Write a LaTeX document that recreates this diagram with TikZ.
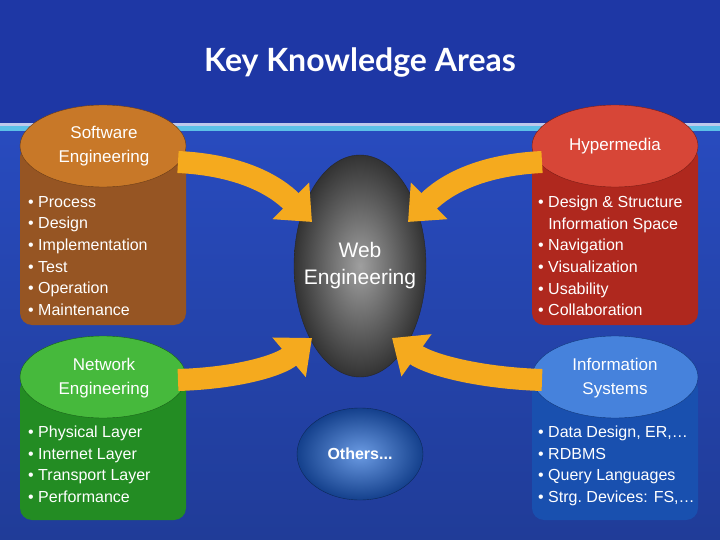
\documentclass[tikz,border=0pt]{standalone}
\usepackage{fontspec}
\setmainfont{Liberation Sans}
\newfontfamily\titlefont{Lato}
\usetikzlibrary{arrows.meta,shapes.geometric}
\definecolor{bgblue}{RGB}{40,75,190}
\definecolor{bgdark}{RGB}{30,55,165}
\definecolor{brn}{RGB}{150,85,35}
\definecolor{brntop}{RGB}{200,120,40}
\definecolor{redc}{RGB}{175,40,30}
\definecolor{redtop}{RGB}{215,70,55}
\definecolor{grn}{RGB}{35,140,35}
\definecolor{grntop}{RGB}{70,185,60}
\definecolor{blu}{RGB}{25,80,175}
\definecolor{blutop}{RGB}{70,130,220}
\definecolor{arrowc}{RGB}{245,170,30}
\tikzset{
  lbl/.style={text=white,font=\fontsize{17}{24}\selectfont,align=center},
  items/.style={text=white,font=\fontsize{16}{21.6}\selectfont,align=left,anchor=north west,inner sep=0pt},
  bigarrow/.style={draw=arrowc,line width=22pt,-{Triangle[width=50pt,length=30pt]}}
}
\begin{document}
\begin{tikzpicture}[x=1pt,y=1pt]
\useasboundingbox (0,0) rectangle (720,-540);
\fill[bottom color=bgblue!80!black,top color=bgblue] (0,-131) rectangle (720,-540);
\fill[bgdark] (0,0) rectangle (720,-123);
\fill[white!70!bgblue] (0,-123) rectangle (720,-126);
\fill[bgblue!50!cyan!70!white] (0,-126) rectangle (720,-131);
\node (title) at (360,-63) {\titlefont\bfseries\fontsize{32}{36}\selectfont\color{white}Key Knowledge Areas};
% cylinders
\fill[brn,rounded corners=12pt] (20,-145) rectangle (186,-325);
\fill[brntop,draw=brn!70!black] (103,-146) ellipse (83pt and 41pt);
\fill[redc,rounded corners=12pt] (532,-145) rectangle (698,-325);
\fill[redtop,draw=redc!70!black] (615,-146) ellipse (83pt and 41pt);
\fill[grn,rounded corners=12pt] (20,-377) rectangle (186,-520);
\fill[grntop,draw=grn!70!black] (103,-377) ellipse (83pt and 41pt);
\fill[blu,rounded corners=12pt] (532,-377) rectangle (698,-520);
\fill[blutop,draw=blu!70!black] (615,-377) ellipse (83pt and 41pt);
% central
\node[ellipse,minimum width=132pt,minimum height=222pt,inner color=gray!75,outer color=gray!40!black,draw=gray!30!black] (web) at (360,-266) {};
\node[lbl,font=\fontsize{21}{27}\selectfont] at (web) {Web\\Engineering};
\node[ellipse,minimum width=126pt,minimum height=92pt,inner color=blutop!80!white,outer color=blu!80!black,draw=blu!50!black] (oth) at (360,-454) {};
\node[text=white,font=\bfseries\fontsize{16}{19}\selectfont] at (oth) {Others...};
% arrows
\coordinate (a1) at (178,-162); \coordinate (t1) at (312,-222);
\draw[bigarrow] (a1) .. controls (240,-165) and (275,-185) .. (t1);
\coordinate (a2) at (542,-162); \coordinate (t2) at (408,-222);
\draw[bigarrow] (a2) .. controls (480,-165) and (445,-185) .. (t2);
\coordinate (a3) at (178,-380); \coordinate (t3) at (312,-338);
\draw[bigarrow] (a3) .. controls (240,-378) and (280,-365) .. (t3);
\coordinate (a4) at (542,-380); \coordinate (t4) at (392,-338);
\draw[bigarrow] (a4) .. controls (480,-378) and (430,-365) .. (t4);
% labels
\node[lbl] (se) at (104,-146) {Software\\Engineering};
\node[lbl] (hm) at (615,-146) {Hypermedia};
\node[lbl] (ne) at (104,-378) {Network\\Engineering};
\node[lbl] (is) at (615,-378) {Information\\Systems};
\node[items] (sei) at (28,-196) {• Process\\• Design\\• Implementation\\• Test\\• Operation\\• Maintenance};
\node[items] (hmi) at (538,-196) {• Design \& Structure\\\phantom{• }Information Space\\• Navigation\\• Visualization\\• Usability\\• Collaboration};
\node[items] (nei) at (28,-426) {• Physical Layer\\• Internet Layer\\• Transport Layer\\• Performance};
\node[items] (isi) at (538,-426) {• Data Design, ER,…\\• RDBMS\\• Query Languages\\• Strg.\ Devices: FS,…};
\end{tikzpicture}
\end{document}
